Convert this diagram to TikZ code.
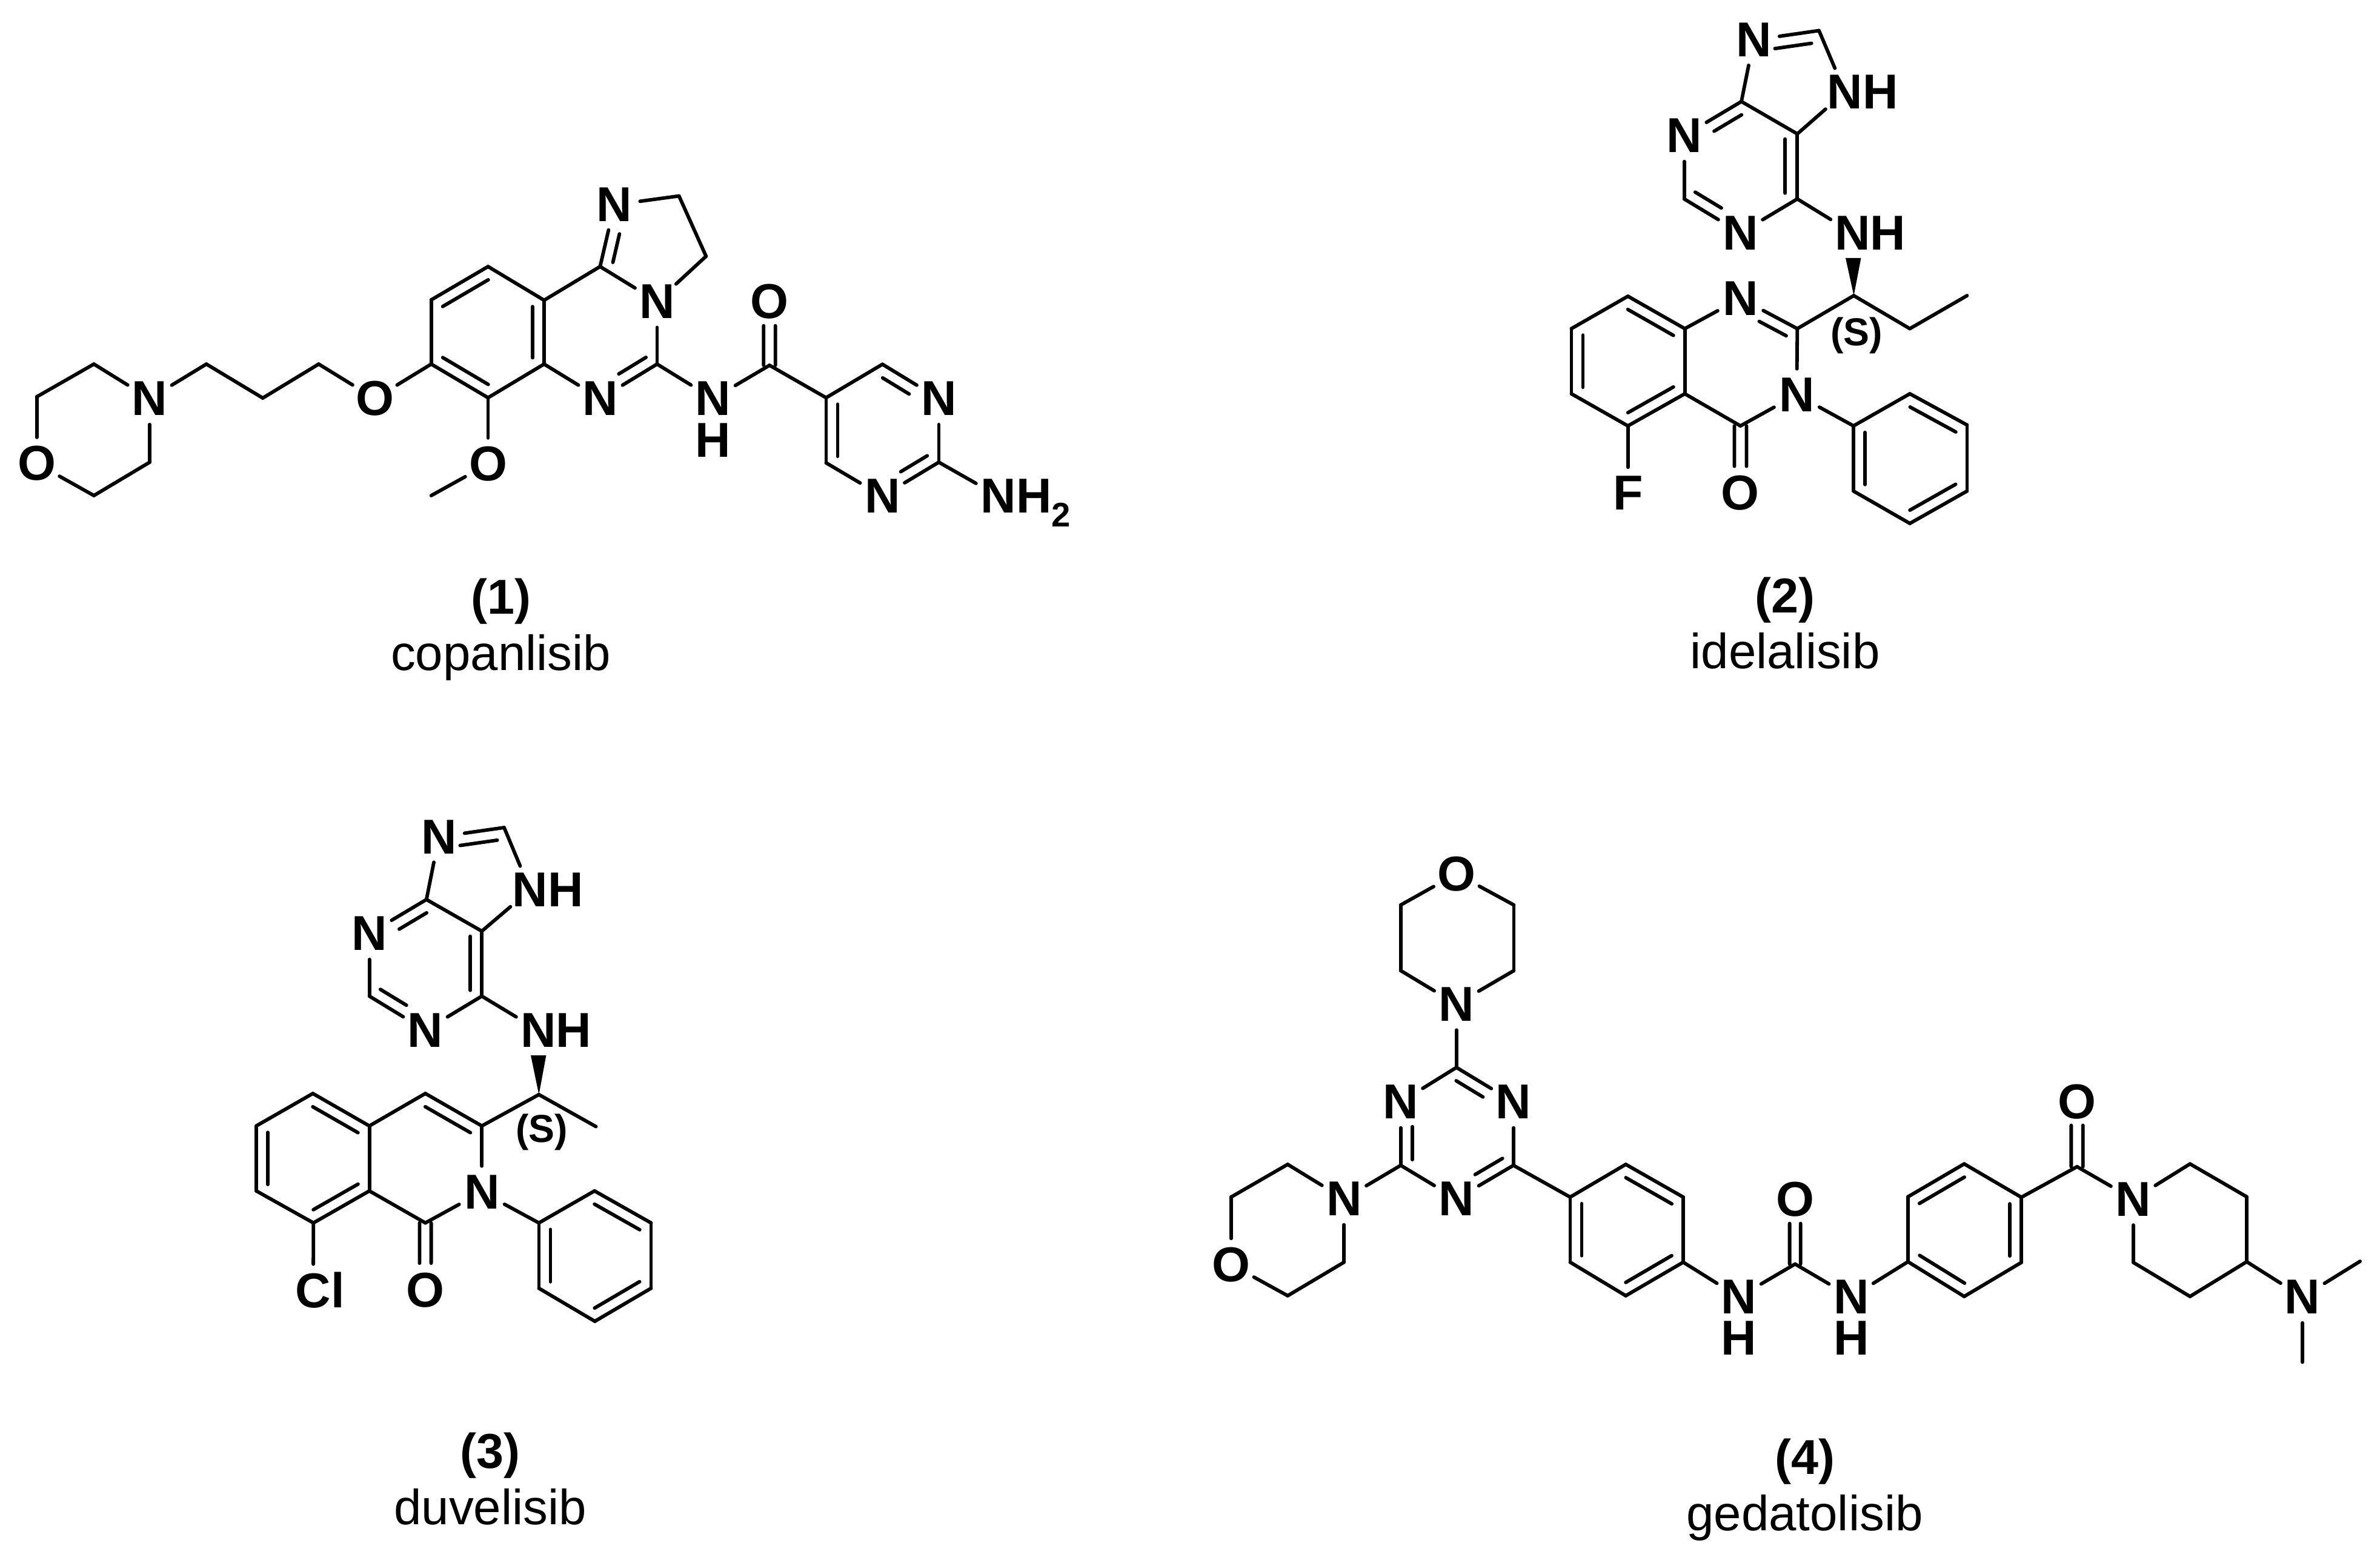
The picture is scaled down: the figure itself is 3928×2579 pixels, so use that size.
\documentclass[tikz,border=0pt]{standalone}
\usepackage{fontspec}
\setmainfont{Liberation Sans}
\usetikzlibrary{calc}
\newcommand\subtwo{\raisebox{-0.28em}{\fontsize{16}{18}\selectfont 2}}
\newcommand\bonds[1]{\foreach \a/\b in {#1}{\draw[bond] (\a)--(\b);}}
% inner stroke of a double bond: atoms, start and end fraction, signed offset (left of travel is positive)
\newcommand\inbond[5]{\draw[bond] ($(#1)!#3!(#2)!#5!90:(#2)$)--($(#1)!#4!(#2)!#5!90:(#2)$);}
\newcommand\ringdb[3]{\inbond{#1}{#2}{.1}{.9}{#3}}
\tikzset{
  bond/.style={line width=1.65pt,line cap=round,line join=round},
  atom/.style={circle,inner sep=0pt,minimum size=0.84cm,font=\fontsize{23}{27}\selectfont\bfseries,text=black},
  hatom/.style={inner sep=0pt,font=\fontsize{23}{27}\selectfont\bfseries,text=black},
  stereo/.style={inner sep=0pt,anchor=base,font=\fontsize{18.3}{21}\selectfont\bfseries},
  numlabel/.style={inner sep=0pt,font=\fontsize{23}{27}\selectfont\bfseries},
  namelabel/.style={inner sep=0pt,font=\fontsize{23.2}{27}\selectfont},
}
\begin{document}
\begin{tikzpicture}[x=0.01cm,y=-0.01cm]
\useasboundingbox (0,0) rectangle (3928,2579);
\fill[white] (0,0) rectangle (3928,2579);

% ---------- (1) copanlisib
\node[atom] (Amn) at (247,658) {N};
\coordinate (Ama) at (155,601);
\coordinate (Amb) at (60.6,655);
\node[atom] (Amo) at (60.6,765) {O};
\coordinate (Amc) at (155,818);
\coordinate (Amd) at (247,763);
\coordinate (Ac1) at (340.6,601);
\coordinate (Ac2) at (433.7,657);
\coordinate (Ac3) at (526,601);
\node[atom] (Aeo) at (618.6,658) {O};
\coordinate (Ar1) at (711.7,601);
\coordinate (Ar2) at (711.7,495);
\coordinate (Ar3) at (805.5,440);
\coordinate (Ar4) at (898,495.6);
\coordinate (Ar5) at (898,601);
\coordinate (Ar6) at (805.5,656.5);
\node[atom] (Aoo) at (805.5,766) {O};
\coordinate (Ame) at (711.7,818);
\node[atom] (Anq) at (991,658) {N};
\coordinate (Acg) at (1084.4,601);
\node[atom] (Anb) at (1084.4,497.7) {N};
\coordinate (Acq) at (990.4,440);
\node[atom] (Ani) at (1014,338) {N};
\coordinate (Ach) at (1120.6,323.5);
\coordinate (Aci) at (1165.3,423);
\node[atom] (Anh) at (1176.8,658) {N};
\node[hatom] (Ahh) at (1176.8,726.5) {H};
\coordinate (Acc) at (1270,603);
\node[atom] (Aco) at (1270,497.7) {O};
\coordinate (Ap1) at (1363.4,656.5);
\coordinate (Ap2) at (1456.4,601.3);
\node[atom] (Apn) at (1549.4,658) {N};
\coordinate (Ap3) at (1549.4,763);
\node[atom] (Apm) at (1456.4,819) {N};
\coordinate (Ap4) at (1363.4,764);
\node[atom] (Anx) at (1648,819) {N\rlap{\smash{H\subtwo}}};
\bonds{Amn/Ama,Ama/Amb,Amb/Amo,Amo/Amc,Amc/Amd,Amd/Amn,Amn/Ac1,Ac1/Ac2,Ac2/Ac3,Ac3/Aeo,Aeo/Ar1,
  Ar1/Ar2,Ar2/Ar3,Ar3/Ar4,Ar4/Ar5,Ar5/Ar6,Ar6/Ar1,Ar6/Aoo,Aoo/Ame,Ar5/Anq,Anq/Acg,Acg/Anb,Anb/Acq,
  Acq/Ar4,Acq/Ani,Ani/Ach,Ach/Aci,Aci/Anb,Acg/Anh,Anh/Acc,Acc/Ap1,Ap1/Ap2,Ap2/Apn,Apn/Ap3,Ap3/Apm,
  Apm/Ap4,Ap4/Ap1,Ap3/Anx}
\ringdb{Ar2}{Ar3}{-0.19cm}
\ringdb{Ar4}{Ar5}{-0.19cm}
\ringdb{Ar1}{Ar6}{0.19cm}
\inbond{Acq}{Ani}{.11}{.57}{-0.19cm}
\inbond{Acg}{Anq}{.09}{.57}{-0.19cm}
\inbond{Ap2}{Apn}{.11}{.58}{-0.19cm}
\inbond{Ap3}{Apm}{.1}{.57}{-0.19cm}
\ringdb{Ap1}{Ap4}{0.19cm}
\inbond{Acc}{Aco}{0}{.62}{0.097cm}
\inbond{Acc}{Aco}{0}{.62}{-0.097cm}
\node[numlabel] (Anum) at (826.6,993) {(1)};
\node[namelabel,anchor=base] (Aname) at (826.6,1106) {copanlisib};

% ---------- (2) idelalisib
\node[atom] (Bn7) at (2894.4,66) {N};
\coordinate (Bc8) at (3002,50.5);
\node[atom] (Bn9) at (3045,152) {N\rlap{H}};
\coordinate (Bc4) at (2874,167.6);
\coordinate (Bc5) at (2966.3,221);
\node[atom] (Bn3) at (2779.6,223.9) {N};
\coordinate (Bc2) at (2779.6,328.4);
\node[atom] (Bn1) at (2872.4,384.6) {N};
\coordinate (Bc6) at (2966.3,328.4);
\node[atom] (Bnh) at (3057.7,384.6) {N\rlap{H}};
\coordinate (Bch) at (3059.5,488);
\coordinate (Bw1) at (3046,426);
\coordinate (Bw2) at (3071.4,426);
\coordinate (Bq2) at (2966.3,542.5);
\node[atom] (Bq1) at (2872.4,492.5) {N};
\coordinate (Bq8a) at (2780.6,542.5);
\coordinate (Bq8) at (2686.7,489);
\coordinate (Bq7) at (2593.4,542.5);
\coordinate (Bq6) at (2593.4,650);
\coordinate (Bq5) at (2686.7,703);
\coordinate (Bq4a) at (2780.6,650);
\coordinate (Bq4) at (2872.4,703);
\node[atom] (Bq3) at (2965.3,651.5) {N};
\node[atom] (Boo) at (2872.4,814) {O};
\node[atom] (Bff) at (2686.7,814) {F};
\coordinate (Be1) at (3152,542.5);
\coordinate (Be2) at (3246.4,488);
\coordinate (Bpi) at (3059,703);
\coordinate (Bpa) at (3152,650);
\coordinate (Bpb) at (3246.4,701.5);
\coordinate (Bpc) at (3246.4,810.6);
\coordinate (Bpd) at (3152,864);
\coordinate (Bpe) at (3059,810.6);
\bonds{Bn7/Bc8,Bc8/Bn9,Bn9/Bc5,Bc5/Bc4,Bc4/Bn7,Bc4/Bn3,Bn3/Bc2,Bc2/Bn1,Bn1/Bc6,Bc6/Bc5,Bc6/Bnh,
  Bch/Bq2,Bch/Be1,Be1/Be2,Bq2/Bq1,Bq1/Bq8a,Bq8a/Bq8,Bq8/Bq7,Bq7/Bq6,Bq6/Bq5,Bq5/Bq4a,Bq4a/Bq8a,Bq4a/Bq4,
  Bq4/Bq3,Bq3/Bq2,Bq5/Bff,Bq3/Bpi,Bpi/Bpa,Bpa/Bpb,Bpb/Bpc,Bpc/Bpd,Bpd/Bpe,Bpe/Bpi}
\fill (Bch)--(Bw1)--(Bw2)--cycle;
\inbond{Bc8}{Bn7}{.14}{.7}{0.19cm}
\inbond{Bc4}{Bn3}{.1}{.58}{0.19cm}
\inbond{Bc2}{Bn1}{.09}{.555}{0.19cm}
\inbond{Bc5}{Bc6}{.08}{.91}{-0.2cm}
\inbond{Bq2}{Bq1}{.1}{.575}{0.19cm}
\ringdb{Bq8a}{Bq8}{0.19cm}
\ringdb{Bq7}{Bq6}{0.19cm}
\ringdb{Bq5}{Bq4a}{0.19cm}
\inbond{Bq4}{Boo}{0}{.6}{0.1cm}
\inbond{Bq4}{Boo}{0}{.6}{-0.1cm}
\ringdb{Bpa}{Bpb}{-0.19cm}
\ringdb{Bpi}{Bpe}{0.19cm}
\ringdb{Bpc}{Bpd}{-0.19cm}
\begin{scope}
\clip (3000,500) rectangle (3130,583);
\node[stereo] (Bst) at (3064.3,570) {(S)};
\end{scope}
\node[numlabel] (Bnum) at (2946,990.5) {(2)};
\node[namelabel,anchor=base] (Bname) at (2946,1103) {idelalisib};

% ---------- (3) duvelisib
\node[atom] (Cn7) at (724.4,1381.4) {N};
\coordinate (Cc8) at (832,1366);
\node[atom] (Cn9) at (875,1469) {N\rlap{H}};
\coordinate (Cc4) at (703.8,1484.8);
\coordinate (Cc5) at (795.2,1537);
\node[atom] (Cn3) at (609.6,1541) {N};
\coordinate (Cc2) at (609.6,1644.3);
\node[atom] (Cn1) at (702,1700.6) {N};
\coordinate (Cc6) at (795.2,1644.3);
\node[atom] (Cnh) at (888.4,1700.6) {N\rlap{H}};
\coordinate (Cch) at (889.4,1806.8);
\coordinate (Cw1) at (876,1742);
\coordinate (Cw2) at (901.4,1742);
\coordinate (Cq3) at (795.2,1858.5);
\coordinate (Cq4) at (702,1805);
\coordinate (Cq4a) at (609.6,1858.5);
\coordinate (Cq5) at (516.3,1805);
\coordinate (Cq6) at (423,1858.5);
\coordinate (Cq7) at (423,1965.8);
\coordinate (Cq8) at (517.3,2018.6);
\coordinate (Cq8a) at (609.6,1965.8);
\coordinate (Cq1) at (702,2018.6);
\node[atom] (Cq2) at (795.2,1967.5) {N};
\node[atom] (Coo) at (702,2129.4) {O};
\node[atom] (Ccl) at (517,2129.4) {C\rlap{l}};
\coordinate (Cme) at (983.6,1859.6);
\coordinate (Cpi) at (889.4,2018.6);
\coordinate (Cpa) at (981.2,1965.8);
\coordinate (Cpb) at (1074.5,2018.6);
\coordinate (Cpc) at (1074.5,2126.5);
\coordinate (Cpd) at (981.7,2181);
\coordinate (Cpe) at (889.4,2126.5);
\bonds{Cn7/Cc8,Cc8/Cn9,Cn9/Cc5,Cc5/Cc4,Cc4/Cn7,Cc4/Cn3,Cn3/Cc2,Cc2/Cn1,Cn1/Cc6,Cc6/Cc5,Cc6/Cnh,
  Cch/Cq3,Cch/Cme,Cq3/Cq4,Cq4/Cq4a,Cq4a/Cq5,Cq5/Cq6,Cq6/Cq7,Cq7/Cq8,Cq8/Cq8a,Cq8a/Cq4a,Cq8a/Cq1,Cq1/Cq2,
  Cq2/Cq3,Cq8/Ccl,Cq2/Cpi,Cpi/Cpa,Cpa/Cpb,Cpb/Cpc,Cpc/Cpd,Cpd/Cpe,Cpe/Cpi}
\fill (Cch)--(Cw1)--(Cw2)--cycle;
\inbond{Cc8}{Cn7}{.13}{.7}{0.19cm}
\inbond{Cc4}{Cn3}{.1}{.58}{0.19cm}
\inbond{Cc2}{Cn1}{.09}{.555}{0.19cm}
\inbond{Cc5}{Cc6}{.08}{.91}{-0.19cm}
\ringdb{Cq4}{Cq3}{-0.19cm}
\ringdb{Cq4a}{Cq5}{0.19cm}
\ringdb{Cq6}{Cq7}{0.19cm}
\ringdb{Cq8}{Cq8a}{0.19cm}
\inbond{Cq1}{Coo}{0}{.6}{0.096cm}
\inbond{Cq1}{Coo}{0}{.6}{-0.096cm}
\ringdb{Cpa}{Cpb}{-0.19cm}
\ringdb{Cpi}{Cpe}{0.19cm}
\ringdb{Cpc}{Cpd}{-0.19cm}
\begin{scope}
\clip (830,1815) rectangle (960,1900);
\node[stereo] (Cst) at (894.2,1885.5) {(S)};
\end{scope}
\node[numlabel] (Cnum) at (809,2403) {(3)};
\node[namelabel,anchor=base] (Cname) at (809,2516) {duvelisib};

% ---------- (4) gedatolisib
\node[atom] (Dto) at (2403.7,1442.3) {O};
\coordinate (Dt1) at (2311.8,1493.8);
\coordinate (Dt2) at (2311.8,1602.2);
\node[atom] (Dtn) at (2403.7,1657.5) {N};
\coordinate (Dt3) at (2498.4,1602.2);
\coordinate (Dt4) at (2498.4,1493.8);
\coordinate (Dz1) at (2403.7,1762);
\node[atom] (Dza) at (2311.8,1819) {N};
\coordinate (Dz2) at (2311.8,1923.6);
\node[atom] (Dzb) at (2403.7,1979) {N};
\coordinate (Dz3) at (2497.8,1923.6);
\node[atom] (Dzc) at (2497.8,1819) {N};
\node[atom] (Dln) at (2218.2,1979) {N};
\coordinate (Dl1) at (2125.2,1922);
\coordinate (Dl2) at (2031.7,1976);
\node[atom] (Dlo) at (2031.7,2087.3) {O};
\coordinate (Dl3) at (2125.2,2138.8);
\coordinate (Dl4) at (2218.2,2083.5);
\coordinate (Dpi) at (2591.4,1976);
\coordinate (Dpa) at (2683.2,1922);
\coordinate (Dpb) at (2778,1976);
\coordinate (Dpc) at (2778,2083.5);
\coordinate (Dpd) at (2683.2,2138.8);
\coordinate (Dpe) at (2591.4,2083.5);
\node[atom] (Dua) at (2869.8,2140.9) {N};
\node[hatom] (Dha) at (2869.8,2209) {H};
\coordinate (Duc) at (2962.6,2086.5);
\node[atom] (Duo) at (2962.6,1979.4) {O};
\node[atom] (Dub) at (3055.4,2140.9) {N};
\node[hatom] (Dhb) at (3055.4,2209) {H};
\coordinate (Dqa) at (3148.9,2082.7);
\coordinate (Dqb) at (3148.9,1975.5);
\coordinate (Dqc) at (3241.7,1921.2);
\coordinate (Dqd) at (3336,1976.3);
\coordinate (Dqe) at (3336,2083.9);
\coordinate (Dqf) at (3241.7,2140);
\coordinate (Dac) at (3428,1925.8);
\node[atom] (Dao) at (3428,1818.6) {O};
\node[atom] (Dsn) at (3520.9,1979.4) {N};
\coordinate (Ds1) at (3614.4,1921.2);
\coordinate (Ds2) at (3708,1975.5);
\coordinate (Ds3) at (3708,2082.7);
\coordinate (Ds4) at (3614.4,2140);
\coordinate (Ds5) at (3520.9,2083.9);
\node[atom] (Dnm) at (3800,2140.9) {N};
\coordinate (Dm1) at (3895,2082);
\coordinate (Dm2) at (3800,2248.4);
\bonds{Dto/Dt1,Dt1/Dt2,Dt2/Dtn,Dtn/Dt3,Dt3/Dt4,Dt4/Dto,Dtn/Dz1,Dz1/Dza,Dza/Dz2,Dz2/Dzb,Dzb/Dz3,Dz3/Dzc,Dzc/Dz1,
  Dz2/Dln,Dln/Dl1,Dl1/Dl2,Dl2/Dlo,Dlo/Dl3,Dl3/Dl4,Dl4/Dln,Dz3/Dpi,Dpi/Dpa,Dpa/Dpb,Dpb/Dpc,Dpc/Dpd,Dpd/Dpe,Dpe/Dpi,
  Dpc/Dua,Dua/Duc,Duc/Dub,Dub/Dqa,Dqa/Dqb,Dqb/Dqc,Dqc/Dqd,Dqd/Dqe,Dqe/Dqf,Dqf/Dqa,Dqd/Dac,Dac/Dsn,
  Dsn/Ds1,Ds1/Ds2,Ds2/Ds3,Ds3/Ds4,Ds4/Ds5,Ds5/Dsn,Ds3/Dnm,Dnm/Dm1,Dnm/Dm2}
\inbond{Dz1}{Dzc}{.1}{.57}{-0.19cm}
\inbond{Dz2}{Dza}{.09}{.61}{-0.19cm}
\inbond{Dz3}{Dzb}{.09}{.57}{-0.19cm}
\ringdb{Dpi}{Dpe}{0.19cm}
\ringdb{Dpa}{Dpb}{-0.19cm}
\ringdb{Dpc}{Dpd}{-0.19cm}
\inbond{Duc}{Duo}{0}{.625}{0.09cm}
\inbond{Duc}{Duo}{0}{.625}{-0.09cm}
\ringdb{Dqc}{Dqb}{0.19cm}
\ringdb{Dqd}{Dqe}{-0.19cm}
\ringdb{Dqa}{Dqf}{0.19cm}
\inbond{Dac}{Dao}{0}{.636}{0.097cm}
\inbond{Dac}{Dao}{0}{.636}{-0.097cm}
\node[numlabel] (Dnum) at (2978.5,2413) {(4)};
\node[namelabel,anchor=base] (Dname) at (2978.5,2526) {gedatolisib};
\end{tikzpicture}
\end{document}
